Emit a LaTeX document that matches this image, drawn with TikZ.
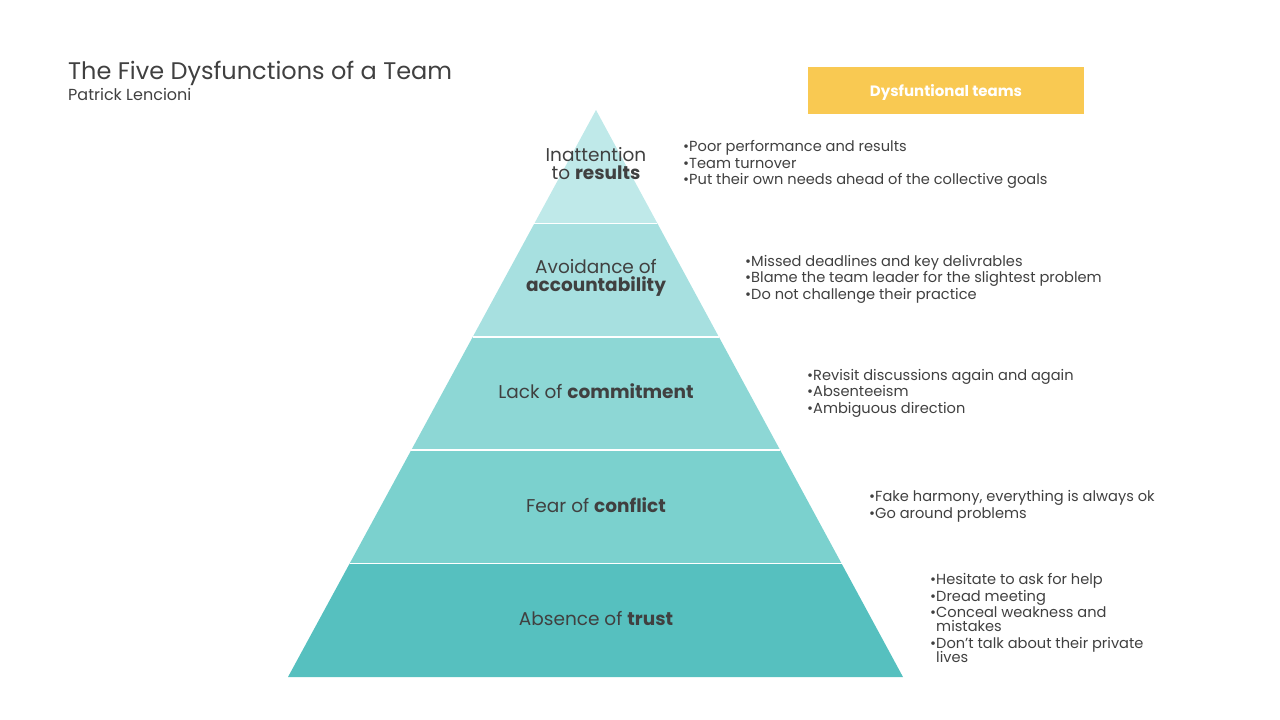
\documentclass[tikz,border=0pt]{standalone}
\usepackage{fontspec}
\setmainfont{Poppins}
\usepackage{xcolor}
\usetikzlibrary{calc,positioning}

\definecolor{txt}{HTML}{404040}
\definecolor{layerA}{HTML}{BFE9E9}
\definecolor{layerB}{HTML}{A7E0E0}
\definecolor{layerC}{HTML}{8DD7D5}
\definecolor{layerD}{HTML}{7BD1CE}
\definecolor{layerE}{HTML}{56C0BF}
\definecolor{banner}{HTML}{F9C952}

\begin{document}
\begin{tikzpicture}[
    x=1bp, y=-1bp,
    label/.style={font=\fontsize{18.5bp}{18bp}\selectfont, text=txt, align=center, inner sep=0pt},
    bullets/.style={font=\fontsize{14.6bp}{16.5bp}\selectfont, text=txt, align=left, anchor=base west, inner sep=0pt},
    sep/.style={white, line width=1.5bp}
]
\useasboundingbox (0,0) rectangle (1280,720);

% pyramid
\coordinate (apex) at (596,110);
\coordinate (bl) at (288,677);
\coordinate (br) at (903,677);
\foreach \i/\c in {1/layerA,2/layerB,3/layerC,4/layerD,5/layerE}{
  \fill[\c] ($(apex)!{(\i-1)/5}!(bl)$) -- ($(apex)!{\i/5}!(bl)$)
    -- ($(apex)!{\i/5}!(br)$) -- ($(apex)!{(\i-1)/5}!(br)$) -- cycle;
}
\foreach \i in {1,...,4}
  \draw[sep] ($(apex)!{\i/5}!(bl)$) -- ($(apex)!{\i/5}!(br)$);

% titles
\node[anchor=base west, inner sep=0pt, text=txt, font=\fontsize{24bp}{26bp}\selectfont] (title) at (68,80) {The Five Dysfunctions of a Team};
\node[anchor=base west, inner sep=0pt, text=txt, font=\fontsize{16bp}{17bp}\selectfont] (author) at (68,101) {Patrick Lencioni};
\node[fill=banner, minimum width=276bp, minimum height=47bp, text depth=0pt, text=white, font=\bfseries\fontsize{15bp}{16bp}\selectfont] (banner) at (946,90.5) {Dysfuntional teams};

% layer labels
\node[label] (results) at (596,164) {Inattention\\to \textbf{results}};
\node[label] (account) at (596,278) {Avoidance of\\\textbf{accountability}};
\node[label] (commit) at (596,391) {Lack of \textbf{commitment}};
\node[label] (conflict) at (596,505) {Fear of \textbf{conflict}};
\node[label] (trust) at (596,619) {Absence of \textbf{trust}};

% symptoms
\node[bullets] (resultsList) at (683,185) {\textbullet Poor performance and results\\\textbullet Team turnover\\\textbullet Put their own needs ahead of the collective goals};
\node[bullets] (accountList) at (745,299) {\textbullet Missed deadlines and key delivrables\\\textbullet Blame the team leader for the slightest problem\\\textbullet Do not challenge their practice};
\node[bullets] (commitList) at (807,413) {\textbullet Revisit discussions again and again\\\textbullet Absenteeism\\\textbullet Ambiguous direction};
\node[bullets] (conflictList) at (869,518) {\textbullet Fake harmony, everything is always ok\\\textbullet Go around problems};
\node[bullets] (trustList) at (930,662) {\textbullet Hesitate to ask for help\\\textbullet Dread meeting\\\textbullet Conceal weakness and\\[-2.5bp]\phantom{\textbullet}mistakes\\\textbullet Don't talk about their private\\[-2.5bp]\phantom{\textbullet}lives};
\end{tikzpicture}
\end{document}
